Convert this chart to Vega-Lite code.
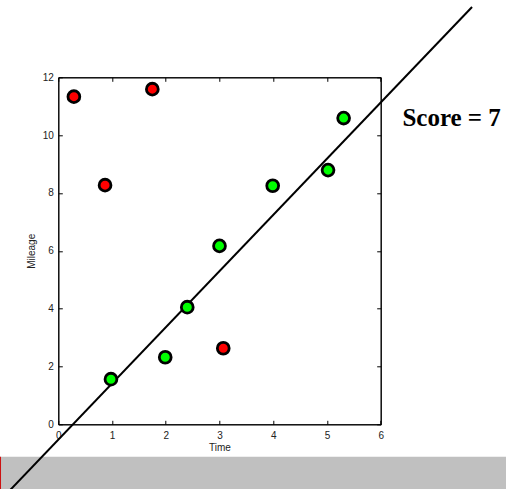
{
  "$schema": "https://vega.github.io/schema/vega-lite/v6.json",
  "width": 322.4,
  "height": 347,
  "autosize": "none",
  "padding": {"left": 58.3, "top": 77.3, "right": 125.3, "bottom": 64.7},
  "background": "white",
  "config": {
    "view": {"stroke": "black", "strokeWidth": 1},
    "axis": {
      "grid": false,
      "domainColor": "black",
      "tickColor": "black",
      "labelColor": "#222222",
      "titleColor": "#222222",
      "labelFont": "Liberation Sans",
      "titleFont": "Liberation Sans",
      "labelFontSize": 10,
      "titleFontSize": 10,
      "titleFontWeight": "normal",
      "labelFlush": false,
      "labelOverlap": false
    }
  },
  "datasets": {
    "points": [
      {"time": 0.29, "mileage": 11.33, "status": "outlier"},
      {"time": 1.75, "mileage": 11.59, "status": "outlier"},
      {"time": 0.87, "mileage": 8.27, "status": "outlier"},
      {"time": 3.07, "mileage": 2.63, "status": "outlier"},
      {"time": 0.98, "mileage": 1.56, "status": "inlier"},
      {"time": 1.99, "mileage": 2.32, "status": "inlier"},
      {"time": 2.40, "mileage": 4.05, "status": "inlier"},
      {"time": 3.00, "mileage": 6.17, "status": "inlier"},
      {"time": 3.99, "mileage": 8.25, "status": "inlier"},
      {"time": 5.02, "mileage": 8.79, "status": "inlier"},
      {"time": 5.31, "mileage": 10.59, "status": "inlier"}
    ],
    "fit": [{"time": -1.27, "mileage": -3.0}, {"time": 7.70, "mileage": 14.43}],
    "single": [{"label": "Score = 7"}]
  },
  "resolve": {"axis": {"x": "independent", "y": "independent"}},
  "layer": [
    {
      "data": {"name": "single"},
      "mark": {"type": "rect", "color": "#c0c0c0", "clip": false},
      "encoding": {
        "x": {"datum": -1.2, "type": "quantitative", "scale": {"domain": [0, 6], "nice": false, "zero": false}, "axis": null},
        "x2": {"datum": 8.6},
        "y": {"datum": -1.12, "type": "quantitative", "scale": {"domain": [0, 12], "nice": false, "zero": false}, "axis": null},
        "y2": {"datum": -2.7}
      }
    },
    {
      "data": {"name": "single"},
      "mark": {"type": "rule", "color": "#cc1111", "strokeWidth": 1.5, "clip": false},
      "encoding": {
        "x": {"datum": -1.08, "type": "quantitative", "axis": null},
        "y": {"datum": -1.12, "type": "quantitative", "axis": null},
        "y2": {"datum": -2.7}
      }
    },
    {
      "data": {"name": "fit"},
      "mark": {"type": "line", "color": "black", "strokeWidth": 2, "clip": false},
      "encoding": {
        "x": {
          "field": "time", "type": "quantitative",
          "axis": {"orient": "bottom", "values": [0, 1, 2, 3, 4, 5, 6], "tickSize": -4, "labelPadding": 10, "title": "Time", "titlePadding": 2}
        },
        "y": {
          "field": "mileage", "type": "quantitative",
          "axis": {"orient": "left", "values": [0, 2, 4, 6, 8, 10, 12], "tickSize": -4, "labelPadding": 9, "title": "Mileage", "titlePadding": 6}
        }
      }
    },
    {
      "data": {"name": "points"},
      "mark": {"type": "point", "filled": true, "shape": "circle", "size": 140, "stroke": "black", "strokeWidth": 2.8, "opacity": 1, "clip": false},
      "encoding": {
        "x": {
          "field": "time", "type": "quantitative",
          "axis": {"orient": "top", "values": [0, 1, 2, 3, 4, 5, 6], "tickSize": -4, "labels": false, "title": null}
        },
        "y": {
          "field": "mileage", "type": "quantitative",
          "axis": {"orient": "right", "values": [0, 2, 4, 6, 8, 10, 12], "tickSize": -4, "labels": false, "title": null}
        },
        "fill": {
          "field": "status", "type": "nominal",
          "scale": {"domain": ["inlier", "outlier"], "range": ["#00ff00", "#ff0000"]},
          "legend": null
        },
        "stroke": {"value": "black"}
      }
    },
    {
      "data": {"name": "single"},
      "mark": {"type": "text", "font": "Liberation Serif", "fontWeight": "bold", "fontSize": 25, "align": "center", "baseline": "alphabetic", "fill": "black", "clip": false},
      "encoding": {
        "text": {"field": "label"},
        "x": {"datum": 7.32, "type": "quantitative", "axis": null},
        "y": {"datum": 10.32, "type": "quantitative", "axis": null}
      }
    }
  ]
}
